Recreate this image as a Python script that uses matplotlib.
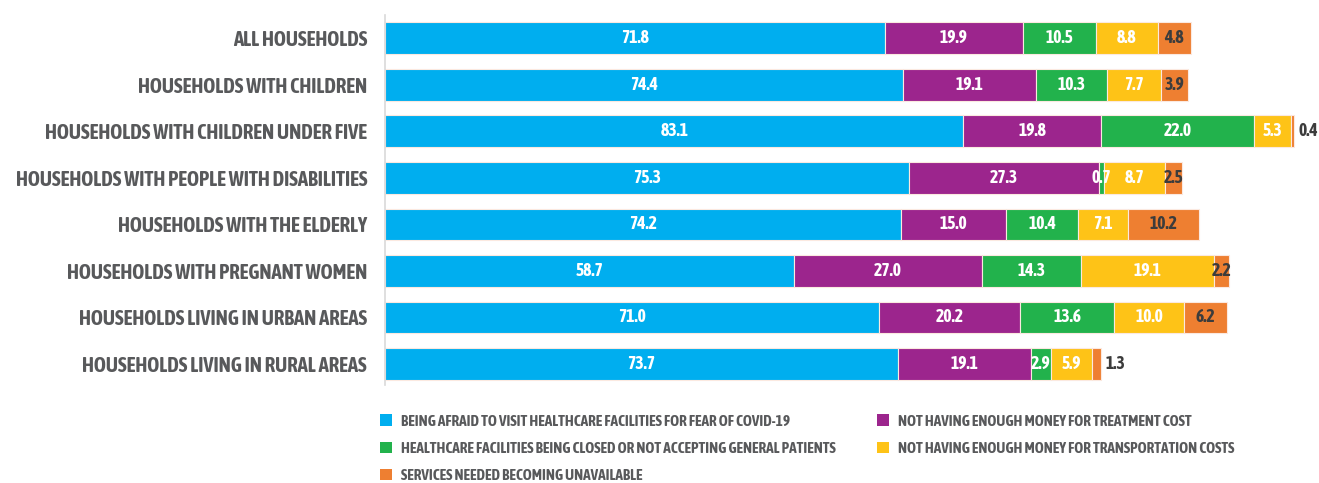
import matplotlib
matplotlib.use('Agg')
import matplotlib.pyplot as plt
from matplotlib import font_manager
from matplotlib.patches import Patch
import numpy as np

categories = [
    'ALL HOUSEHOLDS',
    'HOUSEHOLDS WITH CHILDREN',
    'HOUSEHOLDS WITH CHILDREN UNDER FIVE',
    'HOUSEHOLDS WITH PEOPLE WITH DISABILITIES',
    'HOUSEHOLDS WITH THE ELDERLY',
    'HOUSEHOLDS WITH PREGNANT WOMEN',
    'HOUSEHOLDS LIVING IN URBAN AREAS',
    'HOUSEHOLDS LIVING IN RURAL AREAS',
]
series_names = [
    'BEING AFRAID TO VISIT HEALTHCARE FACILITIES FOR FEAR OF COVID-19',
    'NOT HAVING ENOUGH MONEY FOR TREATMENT COST',
    'HEALTHCARE FACILITIES BEING CLOSED OR NOT ACCEPTING GENERAL PATIENTS',
    'NOT HAVING ENOUGH MONEY FOR TRANSPORTATION COSTS',
    'SERVICES NEEDED BECOMING UNAVAILABLE',
]
afraid = [71.8, 74.4, 83.1, 75.3, 74.2, 58.7, 71.0, 73.7]
money_treatment = [19.9, 19.1, 19.8, 27.3, 15.0, 27.0, 20.2, 19.1]
closed = [10.5, 10.3, 22.0, 0.7, 10.4, 14.3, 13.6, 2.9]
money_transport = [8.8, 7.7, 5.3, 8.7, 7.1, 19.1, 10.0, 5.9]
unavailable = [4.8, 3.9, 0.4, 2.5, 10.2, 2.2, 6.2, 1.3]

colors = ['#00AEEF', '#9C258D', '#22B24C', '#FEC317', '#EE7F31']
label_colors = ['white', 'white', 'white', 'white', '#3C3C3C']

# look for a narrow font, bold if possible
fonts = font_manager.fontManager.ttflist
narrow = [f for f in fonts if 'Narrow' in f.name or 'Condensed' in f.name]
bold_narrow = [f for f in narrow if f.weight in ('bold', 700, 600, 800, 'semibold', 'heavy')
               or (isinstance(f.weight, int) and f.weight >= 600)]
if bold_narrow:
    fam = bold_narrow[0].name
elif narrow:
    fam = narrow[0].name
else:
    fam = 'Roboto'
plt.rcParams['font.family'] = [fam, 'DejaVu Sans']
plt.rcParams['font.weight'] = 'bold'

data = [afraid, money_treatment, closed, money_transport, unavailable]

fig = plt.figure(figsize=(13.19, 4.83), dpi=100)
renderer = fig.canvas.get_renderer()


def fit_size(text, width_px, start=20.0):
    t = fig.text(0, 0, text, fontsize=start, fontweight='bold')
    w = t.get_window_extent(renderer).width
    t.remove()
    return start * width_px / w


tick_size = min(17, fit_size(categories[3], 353))
legend_size = min(11, fit_size(series_names[2], 447))
value_size = min(13.5, fit_size('19.9', 28))

ax = fig.add_axes([0.292, 0.203, 0.708, 0.766])
y = np.arange(len(categories))
left = np.zeros(len(categories))
for vals, c, lc in zip(data, colors, label_colors):
    vals = np.array(vals)
    ax.barh(y, vals, left=left, height=0.68, color=c, edgecolor='#FBE9E0', linewidth=0.8)
    for i, v in enumerate(vals):
        if v < 2 and c == colors[-1]:
            ax.text(left[i] + v + 0.6, y[i], f'{v:.1f}', ha='left', va='center',
                    color=lc, fontsize=value_size, fontweight='bold')
        else:
            ax.text(left[i] + v / 2, y[i], f'{v:.1f}', ha='center', va='center',
                    color=lc, fontsize=value_size, fontweight='bold')
    left += vals

ax.set_xlim(0, 134.2)
ax.set_ylim(7.45, -0.5)
ax.set_yticks(y)
ax.set_yticklabels(categories, fontsize=tick_size, color='#58595B', fontweight='bold')
ax.tick_params(axis='y', length=0, pad=13)
ax.set_xticks([])
for s in ['top', 'right', 'bottom']:
    ax.spines[s].set_visible(False)
ax.spines['left'].set_color('#D9D9D9')
ax.spines['left'].set_linewidth(1.2)

order = [0, 2, 4, 1, 3]
handles = [Patch(facecolor=colors[k], edgecolor='none') for k in order]
labels = [series_names[k] for k in order]
gap = 41 / (legend_size * 100 / 72)
leg = fig.legend(handles, labels, ncol=2, loc='upper left', bbox_to_anchor=(0.288, 0.142),
                 frameon=False, handlelength=0.8, handleheight=0.8, handletextpad=0.6,
                 columnspacing=gap, labelspacing=0.85, borderaxespad=0, borderpad=0,
                 prop={'size': legend_size, 'weight': 'bold'})
for t in leg.get_texts():
    t.set_color('#58595B')

fig.savefig('out.png', dpi=100)
